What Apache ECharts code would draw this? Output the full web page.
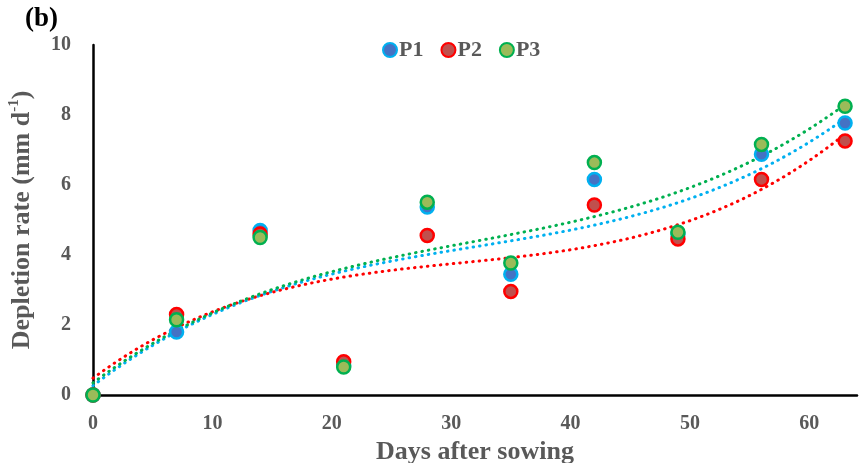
<!DOCTYPE html>
<html>
<head>
<meta charset="utf-8">
<script src="https://cdn.jsdelivr.net/npm/echarts@6/dist/echarts.min.js"></script>
<style>
  html, body { margin: 0; padding: 0; background: #fff; }
  #chart { width: 860px; height: 463px; }
</style>
</head>
<body>
<div id="chart"></div>
<script>
// Sampling days and depletion rates (mm d-1) for each treatment
const days = [0, 7, 14, 21, 28, 35, 42, 49, 56, 63];
const p1 = [0, 1.80, 4.70, 0.85, 5.37, 3.45, 6.16, 4.60, 6.88, 7.77];
const p2 = [0, 2.30, 4.60, 0.95, 4.56, 2.96, 5.43, 4.46, 6.16, 7.26];
const p3 = [0, 2.15, 4.50, 0.80, 5.51, 3.77, 6.64, 4.65, 7.16, 8.25];
const xTicks = [0, 10, 20, 30, 40, 50, 60];
const yTicks = [0, 2, 4, 6, 8, 10];

const FONT = 'Liberation Serif';
const GREY = '#595959';

// Least-squares polynomial fit (order 3), as used for the dotted trendlines
function polyFit(xs, ys, order) {
  const n = order + 1;
  const A = Array.from({length: n}, () => new Array(n + 1).fill(0));
  for (let i = 0; i < xs.length; i++) {
    for (let r = 0; r < n; r++) {
      for (let c = 0; c < n; c++) A[r][c] += Math.pow(xs[i], r + c);
      A[r][n] += ys[i] * Math.pow(xs[i], r);
    }
  }
  for (let col = 0; col < n; col++) {
    let piv = col;
    for (let r = col + 1; r < n; r++) if (Math.abs(A[r][col]) > Math.abs(A[piv][col])) piv = r;
    [A[col], A[piv]] = [A[piv], A[col]];
    for (let r = 0; r < n; r++) {
      if (r === col) continue;
      const f = A[r][col] / A[col][col];
      for (let c = col; c <= n; c++) A[r][c] -= f * A[col][c];
    }
  }
  return A.map((row, i) => row[n] / row[i]);
}
function trendPoints(ys) {
  const k = polyFit(days, ys, 3);
  const pts = [];
  for (let x = days[0]; x <= days[days.length - 1] + 1e-9; x += 0.5) {
    pts.push([x, k[0] + k[1] * x + k[2] * x * x + k[3] * x * x * x]);
  }
  return pts;
}

const groups = [
  {name: 'P1', values: p1, fill: '#4472C4', edge: '#00B0F0'},
  {name: 'P2', values: p2, fill: '#C0504D', edge: '#FF0000'},
  {name: 'P3', values: p3, fill: '#9BBB59', edge: '#00B050'}
];

const series = [];
groups.forEach(g => {
  series.push({
    name: g.name + ' trend',
    type: 'line',
    data: trendPoints(g.values),
    showSymbol: false,
    smooth: false,
    silent: true,
    z: 1,
    lineStyle: {color: g.edge, width: 3, type: [0.5, 6], cap: 'round'}
  });
});
groups.forEach((g, i) => {
  series.push({
    name: g.name,
    type: 'scatter',
    data: days.map((d, j) => [d, g.values[j]]),
    symbol: 'circle',
    symbolSize: 13,
    z: 2 + i,
    itemStyle: {color: g.fill, borderColor: g.edge, borderWidth: 2.5, opacity: 1}
  });
});

const chart = echarts.init(document.getElementById('chart'), null, {renderer: 'canvas'});
chart.setOption({
  animation: false,
  backgroundColor: '#fff',
  graphic: [{
    type: 'text', left: 25, top: 6,
    style: {text: '(b)', font: 'bold 27px "Liberation Serif"', fill: '#000'}
  }],
  legend: {
    data: ['P1', 'P2', 'P3'],
    left: 377, top: 34,
    icon: 'circle',
    itemWidth: 14, itemHeight: 14, itemGap: 17,
    textStyle: {fontFamily: FONT, fontWeight: 'bold', fontSize: 22, color: GREY, padding: [0, 0, 0, -3]}
  },
  grid: {left: 93, right: 3, top: 45, bottom: 68, containLabel: false, outerBoundsMode: 'none'},
  xAxis: {
    type: 'value', min: 0, max: 64, interval: 10,
    name: 'Days after sowing', nameLocation: 'middle', nameGap: 39,
    nameTextStyle: {fontFamily: FONT, fontWeight: 'bold', fontSize: 26, color: GREY},
    axisLine: {lineStyle: {color: '#000', width: 2.5}},
    axisTick: {show: false},
    splitLine: {show: false},
    axisLabel: {
      margin: 19, fontFamily: FONT, fontWeight: 'bold', fontSize: 20, color: GREY,
      showMaxLabel: false,
      formatter: v => (xTicks.includes(v) ? String(v) : '')
    }
  },
  yAxis: {
    type: 'value', min: 0, max: 10, interval: 2,
    name: '{a|Depletion rate (mm d}{s|-1}{a|)}', nameLocation: 'middle', nameGap: 55, nameRotate: 90,
    nameTextStyle: {
      rich: {
        a: {fontFamily: FONT, fontWeight: 'bold', fontSize: 26, color: GREY},
        s: {fontFamily: FONT, fontWeight: 'bold', fontSize: 15, color: GREY, padding: [0, 0, 16, 0]}
      }
    },
    axisLine: {show: true, lineStyle: {color: '#000', width: 2.5}},
    axisTick: {show: false},
    splitLine: {show: false},
    axisLabel: {
      margin: 22, fontFamily: FONT, fontWeight: 'bold', fontSize: 20, color: GREY,
      formatter: v => (yTicks.includes(v) ? String(v) : '')
    }
  },
  series: series
});
</script>
</body>
</html>
